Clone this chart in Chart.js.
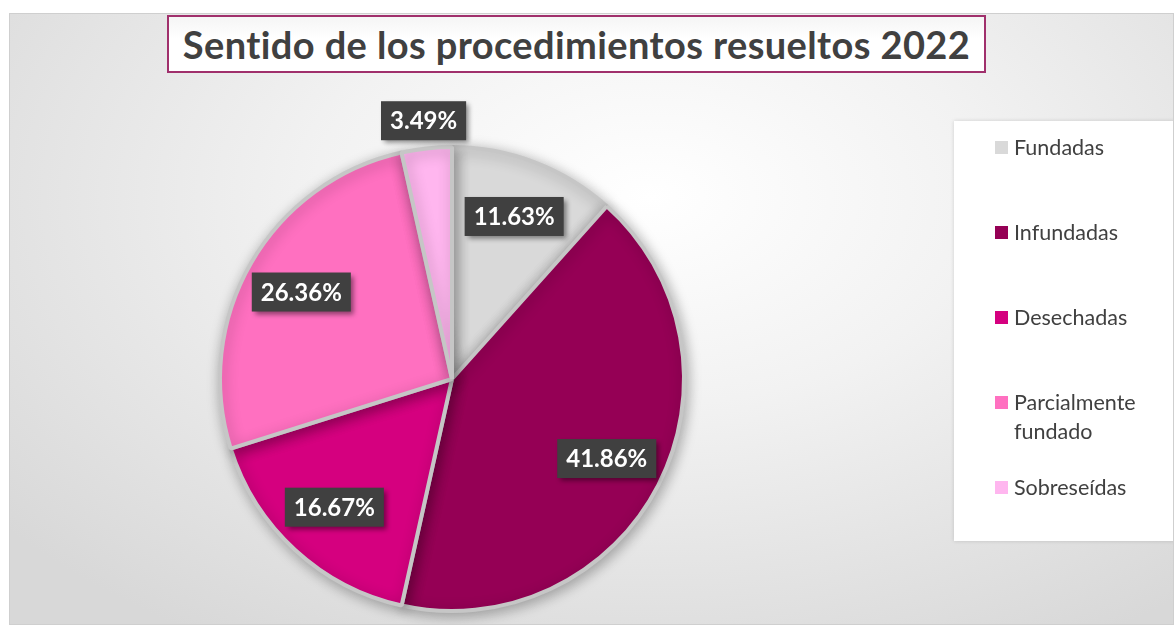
<!DOCTYPE html>
<html>
<head>
<meta charset="utf-8">
<script src="https://cdn.jsdelivr.net/npm/chart.js@4.4.0/dist/chart.umd.min.js"></script>
<style>
  body { margin: 0; background: #fff; font-family: Lato, "Open Sans", sans-serif; }
  #frame {
    position: absolute; left: 9px; top: 13px; width: 1163px; height: 610px;
    border: 1px solid #cfcfcf;
    background: radial-gradient(ellipse 72% 85% at 55% 30%, #ffffff 0%, #f2f2f2 40%, #d8d8d8 100%);
    overflow: hidden;
  }
  #chart { position: absolute; left: 0; top: 0; }
  #title {
    position: absolute; left: 157px; top: 1px; width: 815px; height: 54px;
    border: 2px solid #a0306c; background: linear-gradient(#f5f5f5, #ffffff 40%);
    color: #404040; font-weight: bold; font-size: 38px; letter-spacing: 0.4px; line-height: 54px; text-align: center;
  }
  #legend {
    position: absolute; left: 944px; top: 107px; width: 221px; height: 420px;
    background: #fff; box-shadow: 0 0 4px rgba(0,0,0,0.15);
  }
  .item { position: absolute; left: 41px; width: 175px; font-size: 21.5px; line-height: 29px; color: #404040; }
  .item span.box { position: absolute; left: 0; top: 8px; width: 13px; height: 13px; }
  .item span.txt { display: block; margin-left: 19px; width: 150px; }
</style>
</head>
<body>
<div id="frame">
  <canvas id="chart" width="1165" height="612"></canvas>
  <div id="title">Sentido de los procedimientos resueltos 2022</div>
  <div id="legend"></div>
</div>
<script>
document.addEventListener("DOMContentLoaded", () => {

  const labels = ["Fundadas", "Infundadas", "Desechadas", "Parcialmente fundado", "Sobreseídas"];
  const percents = [11.63, 41.86, 16.67, 26.36, 3.49];
  const colors = ["#d9d9d9", "#950055", "#d5007f", "#ff70c0", "#ffb6ef"];

  // shadow under the pie + dark value boxes like the original
  const pieDeco = {
    id: "pieDeco",
    beforeDatasetsDraw(chart) {
      const ctx = chart.ctx;
      ctx.save();
      ctx.shadowColor = "rgba(0,0,0,0.3)";
      ctx.shadowBlur = 14;
      ctx.shadowOffsetX = 2;
      ctx.shadowOffsetY = 3;
    },
    afterDatasetsDraw(chart) {
      const ctx = chart.ctx;
      ctx.restore();
      const meta = chart.getDatasetMeta(0);
      ctx.save();
      ctx.font = "bold 24px Lato, sans-serif";
      ctx.textAlign = "center";
      ctx.textBaseline = "middle";
      meta.data.forEach((arc, i) => {
        const p = arc.getProps(["x", "y", "startAngle", "endAngle", "outerRadius"], true);
        const mid = (p.startAngle + p.endAngle) / 2;
        const f = percents[i] < 5 ? 1.12 : 0.75;
        const cx = p.x + Math.cos(mid) * p.outerRadius * f;
        const cy = p.y + Math.sin(mid) * p.outerRadius * f;
        const txt = percents[i].toFixed(2) + "%";
        const w = ctx.measureText(txt).width + 18;
        const h = 39;
        ctx.shadowColor = "rgba(0,0,0,0.45)";
        ctx.shadowBlur = 5;
        ctx.shadowOffsetX = 3;
        ctx.shadowOffsetY = 3;
        ctx.fillStyle = "#404040";
        ctx.fillRect(cx - w / 2, cy - h / 2, w, h);
        ctx.shadowColor = "transparent";
        ctx.fillStyle = "#ffffff";
        ctx.fillText(txt, cx, cy + 1);
      });
      ctx.restore();
    }
  };

  new Chart(document.getElementById("chart").getContext("2d"), {
    type: "pie",
    data: {
      labels: labels,
      datasets: [{
        data: percents,
        backgroundColor: colors,
        borderColor: "#c6c6c6",
        borderWidth: 4
      }]
    },
    options: {
      responsive: false,
      animation: false,
      layout: { padding: { left: 208, right: 489, top: 130, bottom: 12 } },
      plugins: {
        legend: { display: false },
        tooltip: { enabled: false }
      }
    },
    plugins: [pieDeco]
  });

  const legend = document.getElementById("legend");
  labels.forEach((name, i) => {
    const item = document.createElement("div");
    item.className = "item";
    item.style.top = (12 + i * 85) + "px";
    item.innerHTML = `<span class="box" style="background:${colors[i]}"></span><span class="txt">${name}</span>`;
    legend.appendChild(item);
  });

});
</script>
</body>
</html>
